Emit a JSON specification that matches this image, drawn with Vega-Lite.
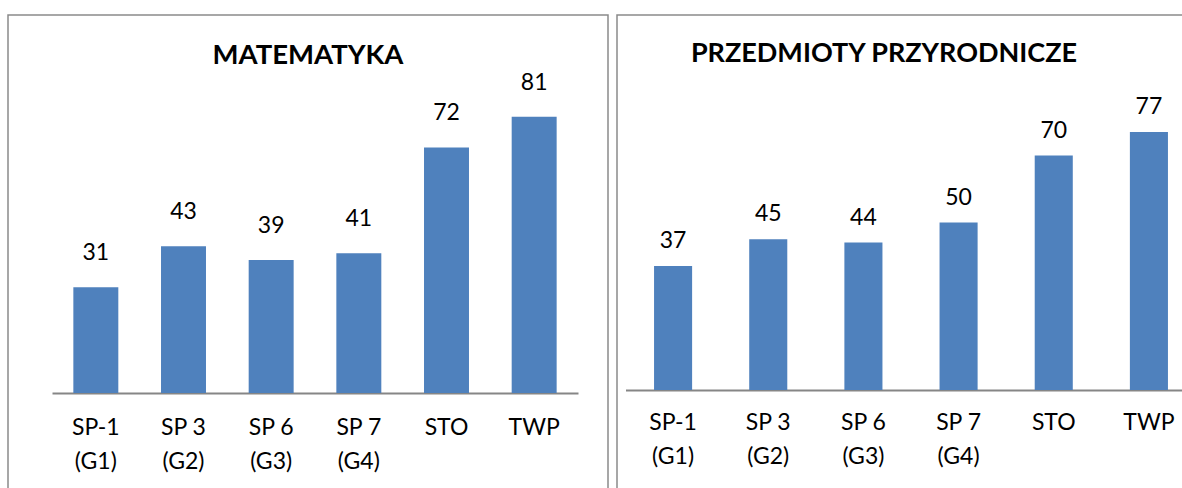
{
  "$schema": "https://vega.github.io/schema/vega-lite/v6.json",
  "padding": {"left": 7, "top": 14, "right": 0, "bottom": 0},
  "spacing": 7,
  "config": {
    "view": {"stroke": "#8a8a8a", "strokeWidth": 1.5},
    "font": "Lato",
    "axisX": {
      "domainColor": "#868686",
      "domainWidth": 2,
      "ticks": false,
      "tickSize": 0,
      "labelFont": "Lato",
      "labelFontSize": 23,
      "labelColor": "#000000",
      "labelAngle": 0,
      "labelLineHeight": 34,
      "labelBaseline": "top",
      "labelAlign": "center",
      "title": null
    }
  },
  "datasets": {
    "mat": [
      {"szkola": "SP-1\n(G1)", "wynik": 31},
      {"szkola": "SP 3\n(G2)", "wynik": 43},
      {"szkola": "SP 6\n(G3)", "wynik": 39},
      {"szkola": "SP 7\n(G4)", "wynik": 41},
      {"szkola": "STO", "wynik": 72},
      {"szkola": "TWP", "wynik": 81}
    ],
    "prz": [
      {"szkola": "SP-1\n(G1)", "wynik": 37},
      {"szkola": "SP 3\n(G2)", "wynik": 45},
      {"szkola": "SP 6\n(G3)", "wynik": 44},
      {"szkola": "SP 7\n(G4)", "wynik": 50},
      {"szkola": "STO", "wynik": 70},
      {"szkola": "TWP", "wynik": 77}
    ]
  },
  "hconcat": [
    {
      "width": 600,
      "height": 474,
      "data": {"name": "mat"},
      "title": {"text": "MATEMATYKA", "offset": -76, "baseline": "alphabetic", "fontSize": 27.5, "font": "Lato", "fontWeight": "bold", "color": "#000000", "anchor": "middle"},
      "encoding": {
        "x": {
          "field": "szkola", "type": "nominal", "sort": null,
          "scale": {"range": [44, 570], "paddingInner": 0.487, "paddingOuter": 0.2435},
          "axis": {"offset": -96, "labelPadding": 23, "labelExpr": "split(datum.label, '\\n')"}
        },
        "y": {"field": "wynik", "type": "quantitative", "scale": {"domain": [-28.15, 110.85], "nice": false, "zero": false}, "axis": null}
      },
      "layer": [
        {"mark": {"type": "bar", "color": "#4F81BD"}},
        {"mark": {"type": "text", "dy": -27, "baseline": "alphabetic", "fontSize": 23, "font": "Lato", "color": "#000000"}, "encoding": {"text": {"field": "wynik", "type": "quantitative"}}}
      ]
    },
    {
      "width": 574,
      "height": 474,
      "data": {"name": "prz"},
      "title": {"text": "PRZEDMIOTY PRZYRODNICZE", "offset": -74, "baseline": "alphabetic", "fontSize": 27, "font": "Lato", "fontWeight": "bold", "color": "#000000", "anchor": "middle", "dx": -20},
      "encoding": {
        "x": {
          "field": "szkola", "type": "nominal", "sort": null,
          "scale": {"range": [8.5, 579.5], "paddingInner": 0.6, "paddingOuter": 0.3},
          "axis": {"offset": -99, "labelPadding": 21, "labelExpr": "split(datum.label, '\\n')"}
        },
        "y": {"field": "wynik", "type": "quantitative", "scale": {"domain": [-29.55, 111.94], "nice": false, "zero": false}, "axis": null}
      },
      "layer": [
        {"mark": {"type": "bar", "color": "#4F81BD"}},
        {"mark": {"type": "text", "dy": -18, "baseline": "alphabetic", "fontSize": 23, "font": "Lato", "color": "#000000"}, "encoding": {"text": {"field": "wynik", "type": "quantitative"}}}
      ]
    }
  ]
}
